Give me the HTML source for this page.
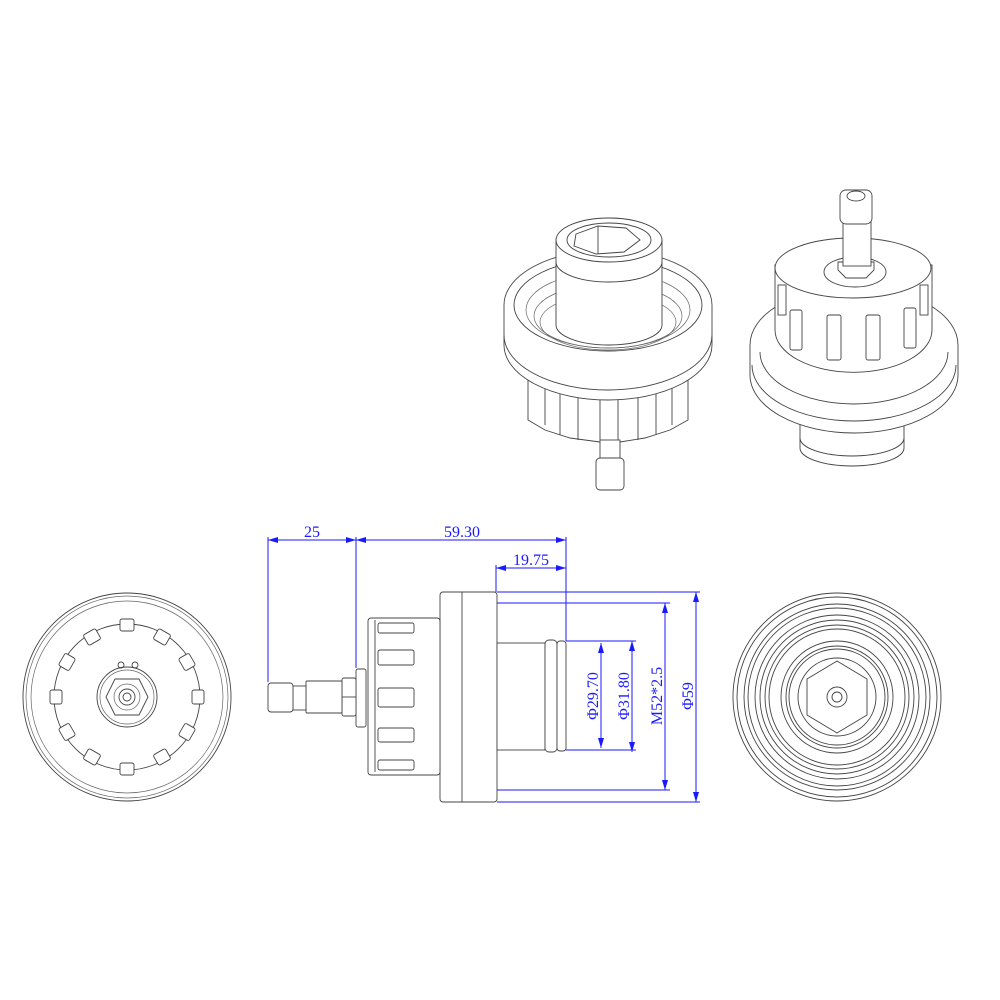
<!DOCTYPE html>
<html><head><meta charset="utf-8"><style>
html,body{margin:0;padding:0;background:#fff}
svg{display:block}
.l{fill:none;stroke:#444;stroke-width:0.9}
.t{fill:none;stroke:#666;stroke-width:0.7}
.w{fill:#fff;stroke:#444;stroke-width:0.9}
.d{fill:none;stroke:#1a1aff;stroke-width:1}
.tx{fill:#1a1aff;font-family:"Liberation Serif",serif;font-size:16px}
</style></head><body>
<svg width="1000" height="1000" viewBox="0 0 1000 1000" xmlns="http://www.w3.org/2000/svg">
<defs>
<marker id="a" viewBox="0 0 10 6" refX="10" refY="3" markerWidth="10" markerHeight="6" orient="auto-start-reverse" markerUnits="userSpaceOnUse"><path d="M0,0 L10,3 L0,6 z" fill="#1a1aff"/></marker>
</defs>

<!-- Left iso view -->
<g>
<path class="w" d="M528,370 L528,420 L545,430 L570,438 L600,442 L620,442 L645,438 L670,430 L688,420 L688,370 Z"/>
<g class="l">
<path d="M545,380 v45 M560,380 v55 M578,385 v55 M600,385 v55 M618,385 v55 M638,385 v55 M656,382 v52 M672,380 v45"/>
</g>
<rect class="w" x="600" y="440" width="20" height="20"/>
<rect class="w" x="596" y="458" width="28" height="32" rx="4"/>
<path class="w" d="M504,305 A104,55 0 0 1 712,305 L712,345 A104,55 0 0 1 504,345 Z"/>
<path class="l" d="M504,335 A104,55 0 0 0 712,335"/>
<ellipse class="l" cx="608" cy="305" rx="94" ry="46"/>
<ellipse class="t" cx="608" cy="310" rx="82" ry="38"/>
<ellipse class="t" cx="608" cy="316" rx="74" ry="32"/>
<ellipse class="t" cx="608" cy="322" rx="68" ry="28"/>
<path class="w" d="M556,240 L556,325 A53,20 0 0 0 662,325 L662,240 Z"/>
<ellipse class="w" cx="609" cy="240" rx="53" ry="22"/>
<ellipse class="l" cx="609" cy="240" rx="42" ry="17"/>
<path class="l" d="M576,234 L598,226 L626,228 L640,240 L624,252 L596,254 L574,246 Z M598,226 V254"/>
<path class="l" d="M556,262 A53,20 0 0 0 662,262"/>
</g>

<!-- Right iso view -->
<g>
<path class="w" d="M800,420 L800,448 A52,18 0 0 0 904,448 L904,420 Z"/>
<path class="l" d="M800,438 A52,18 0 0 0 904,438"/>
<path class="w" d="M750,345 A104,58 0 0 1 958,345 L958,375 A104,58 0 0 1 750,375 Z"/>
<path class="l" d="M752,365 A102,56 0 0 0 956,365 M760,352 A94,52 0 0 0 948,352"/>
<path class="w" d="M775,265 L775,330 A78,42 0 0 0 932,330 L932,265 Z"/>
<ellipse class="w" cx="853" cy="268" rx="78" ry="30"/>
<g class="l">
<rect x="790" y="310" width="12" height="40" rx="2"/>
<rect x="827" y="315" width="14" height="45" rx="2"/>
<rect x="866" y="315" width="14" height="45" rx="2"/>
<rect x="904" y="308" width="12" height="40" rx="2"/>
<rect x="778" y="285" width="8" height="30"/>
<rect x="920" y="285" width="8" height="30"/>
</g>
<ellipse class="l" cx="855" cy="272" rx="31" ry="15"/>
<path class="w" d="M838,262 L838,270 L846,278 L866,278 L874,270 L874,262 Z"/>
<rect class="w" x="843" y="222" width="28" height="44"/>
<rect class="w" x="840" y="190" width="32" height="34" rx="6"/>
<ellipse class="l" cx="856" cy="196" rx="9" ry="5"/>
</g>

<!-- Left front view -->
<g>
<circle class="l" cx="127" cy="697" r="104"/>
<circle class="t" cx="127" cy="697" r="101"/>
<circle class="t" cx="127" cy="697" r="96"/>
<circle class="l" cx="127" cy="697" r="73"/>
<g class="w">
<rect x="120" y="619" width="14" height="12" rx="2"/>
<rect x="120" y="763" width="14" height="12" rx="2"/>
<rect x="50" y="690" width="12" height="14" rx="2"/>
<rect x="192" y="690" width="12" height="14" rx="2"/>
<rect x="85" y="631" width="14" height="12" rx="2" transform="rotate(-30 92 637)"/>
<rect x="155" y="631" width="14" height="12" rx="2" transform="rotate(30 162 637)"/>
<rect x="60" y="656" width="14" height="12" rx="2" transform="rotate(-60 67 662)"/>
<rect x="180" y="656" width="14" height="12" rx="2" transform="rotate(60 187 662)"/>
<rect x="60" y="726" width="14" height="12" rx="2" transform="rotate(60 67 732)"/>
<rect x="180" y="726" width="14" height="12" rx="2" transform="rotate(-60 187 732)"/>
<rect x="85" y="751" width="14" height="12" rx="2" transform="rotate(30 92 757)"/>
<rect x="155" y="751" width="14" height="12" rx="2" transform="rotate(-30 162 757)"/>
</g>
<circle class="l" cx="127" cy="697" r="30"/>
<circle class="t" cx="127" cy="697" r="27"/>
<circle class="l" cx="121" cy="665" r="3"/><circle class="l" cx="135" cy="665" r="3"/>
<polygon class="l" points="115,679 139,679 148,697 139,715 115,715 106,697"/>
<circle class="t" cx="127" cy="697" r="13"/>
<circle class="l" cx="127" cy="697" r="8"/>
<circle class="l" cx="127" cy="697" r="4"/>
</g>

<!-- Right front view -->
<g>
<circle class="l" cx="837" cy="697" r="104"/>
<circle class="l" cx="837" cy="697" r="100"/>
<circle class="l" cx="837" cy="697" r="93"/>
<circle class="l" cx="837" cy="697" r="89"/>
<circle class="l" cx="837" cy="697" r="82"/>
<circle class="l" cx="837" cy="697" r="77"/>
<circle class="l" cx="837" cy="697" r="72"/>
<circle class="l" cx="837" cy="697" r="68"/>
<circle class="l" cx="837" cy="697" r="56"/>
<circle class="l" cx="837" cy="697" r="51"/>
<circle class="l" cx="837" cy="697" r="48"/>
<circle class="l" cx="837" cy="697" r="39"/>
<polygon class="l" points="837,661 867,679 867,715 837,733 807,715 807,679"/>
<circle class="l" cx="837" cy="697" r="10"/>
<circle class="l" cx="837" cy="697" r="5"/>
</g>

<!-- Side view -->
<g>
<rect class="w" x="440" y="592" width="57" height="210" rx="3"/>
<path class="l" d="M462,592 V802"/>
<rect class="w" x="368" y="618" width="72" height="157" rx="3"/>
<g class="l">
<rect x="378" y="623" width="36" height="10" rx="2"/>
<rect x="378" y="650" width="36" height="15" rx="2"/>
<rect x="378" y="688" width="36" height="19" rx="2"/>
<rect x="378" y="728" width="36" height="14" rx="2"/>
<rect x="378" y="760" width="36" height="10" rx="2"/>
<path d="M375,620 V772"/>
</g>
<rect class="w" x="497" y="643" width="48" height="107"/>
<rect class="w" x="545" y="640" width="12" height="112" rx="4"/>
<rect class="w" x="557" y="641" width="9" height="110" rx="3"/>
<rect class="w" x="356" y="669" width="10" height="58" rx="2"/>
<rect class="w" x="342" y="678" width="14" height="38" rx="2"/>
<path class="l" d="M342,697 H356"/>
<rect class="w" x="306" y="681" width="36" height="32" rx="1"/>
<rect class="w" x="293" y="686" width="13" height="24"/>
<rect class="w" x="268" y="683" width="25" height="29" rx="3"/>
</g>

<!-- Dimensions -->
<g class="d">
<path d="M268,537 V682 M356,537 V668 M566,537 V641 M496,565 V592"/>
<path d="M268,540 H356" marker-start="url(#a)" marker-end="url(#a)"/>
<path d="M356,540 H566" marker-start="url(#a)" marker-end="url(#a)"/>
<path d="M496,568 H566" marker-start="url(#a)" marker-end="url(#a)"/>
<path d="M497,592 H700 M497,603 H670 M566,641 H636 M566,750 H636 M497,790 H670 M497,802 H700"/>
<path d="M601,643 V748" marker-start="url(#a)" marker-end="url(#a)"/>
<path d="M632,641 V752" marker-start="url(#a)" marker-end="url(#a)"/>
<path d="M665,603 V790" marker-start="url(#a)" marker-end="url(#a)"/>
<path d="M696,592 V802" marker-start="url(#a)" marker-end="url(#a)"/>
</g>
<g class="tx">
<text x="312" y="537" text-anchor="middle">25</text>
<text x="462" y="537" text-anchor="middle">59.30</text>
<text x="531" y="565" text-anchor="middle">19.75</text>
<text transform="translate(598,696) rotate(-90)" text-anchor="middle">Φ29.70</text>
<text transform="translate(629,696) rotate(-90)" text-anchor="middle">Φ31.80</text>
<text transform="translate(662,696) rotate(-90)" text-anchor="middle">M52*2.5</text>
<text transform="translate(693,696) rotate(-90)" text-anchor="middle">Φ59</text>
</g>
</svg>
</body></html>
